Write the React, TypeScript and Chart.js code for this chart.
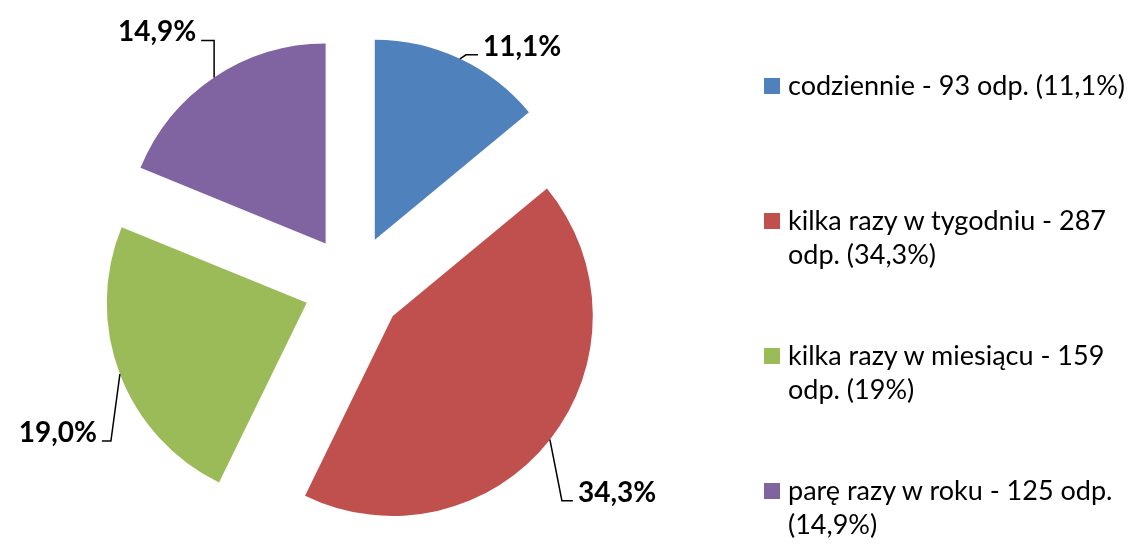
import React, { useEffect, useRef } from "react";
import { Chart, registerables } from "chart.js";

Chart.register(...registerables);

// ---- data ----
const categories = [
  "codziennie",
  "kilka razy w tygodniu",
  "kilka razy w miesiącu",
  "parę razy w roku",
];
const responses = [93, 287, 159, 125];
const percentLabels = ["11,1%", "34,3%", "19,0%", "14,9%"];
const legendLabels = [
  "codziennie - 93 odp. (11,1%)",
  "kilka razy w tygodniu - 287 odp. (34,3%)",
  "kilka razy w miesiącu - 159 odp. (19%)",
  "parę razy w roku - 125 odp. (14,9%)",
];
const sliceColors = ["#4F81BD", "#C0504D", "#9BBB59", "#8064A2"];

// ---- layout / style ----
const EXPLODE = 50;
const RADIUS = 200;
const LABEL_FONT = "bold 28px Lato";
const LEGEND_FONT_FAMILY = "Lato";
const LEGEND_FONT_SIZE = 27;
// elbow offset from the slice edge point, horizontal arm length and side
const leaderLayout = [
  { ex: 6, ey: -4, arm: 12, side: 1 },
  { ex: 12, ey: 61, arm: 11, side: 1 },
  { ex: -9, ey: 67, arm: 9, side: -1 },
  { ex: 0, ey: -37, arm: 13, side: -1 },
];

const explodePlugin = {
  id: "explodeSlices",
  afterDatasetUpdate(chart: any, args: any) {
    const meta = chart.getDatasetMeta(args.index);
    meta.data.forEach((arc: any) => {
      const mid = (arc.startAngle + arc.endAngle) / 2;
      arc.x += Math.cos(mid) * EXPLODE;
      arc.y += Math.sin(mid) * EXPLODE;
    });
  },
};

const labelPlugin = {
  id: "leaderLabels",
  afterDatasetsDraw(chart: any) {
    const ctx = chart.ctx as CanvasRenderingContext2D;
    const meta = chart.getDatasetMeta(0);
    ctx.save();
    meta.data.forEach((arc: any, i: number) => {
      const mid = (arc.startAngle + arc.endAngle) / 2;
      const r = arc.outerRadius;
      const px = arc.x + Math.cos(mid) * r;
      const py = arc.y + Math.sin(mid) * r;
      const L = leaderLayout[i];
      const ex = px + L.ex;
      const ey = py + L.ey;
      const hx = ex + L.side * L.arm;
      ctx.beginPath();
      ctx.moveTo(px, py);
      ctx.lineTo(ex, ey);
      ctx.lineTo(hx, ey);
      ctx.strokeStyle = "#000";
      ctx.lineWidth = 1.5;
      ctx.stroke();
      ctx.font = LABEL_FONT;
      ctx.fillStyle = "#000";
      ctx.textBaseline = "alphabetic";
      ctx.textAlign = L.side > 0 ? "left" : "right";
      ctx.fillText(percentLabels[i], hx + L.side * 5, ey + 1);
    });
    ctx.restore();
  },
};

export default function App() {
  const canvasRef = useRef<HTMLCanvasElement | null>(null);

  useEffect(() => {
    let chart: Chart | null = null;
    let cancelled = false;
    const build = () => {
      if (cancelled || !canvasRef.current) return;
      chart = new Chart(canvasRef.current, {
        type: "pie",
        data: {
          labels: categories,
          datasets: [
            {
              data: responses,
              backgroundColor: sliceColors,
              borderWidth: 0,
              radius: RADIUS,
            } as any,
          ],
        },
        options: {
          responsive: false,
          animation: false,
          events: [],
          layout: { padding: { left: 0, right: 422, top: 19, bottom: 0 } },
          plugins: {
            legend: { display: false },
            tooltip: { enabled: false },
          },
        },
        plugins: [explodePlugin, labelPlugin],
      });
    };
    const fonts = (document as any).fonts;
    if (fonts && fonts.load) {
      Promise.all([fonts.load(LABEL_FONT)])
        .catch(() => {})
        .then(build);
    } else {
      build();
    }
    return () => {
      cancelled = true;
      if (chart) chart.destroy();
    };
  }, []);

  return (
    <div
      style={{
        position: "absolute",
        left: 0,
        top: 0,
        width: 1129,
        height: 551,
        background: "#fff",
        overflow: "hidden",
      }}
    >
      <canvas ref={canvasRef} width={1129} height={551} style={{ display: "block" }} />
      {legendLabels.map((txt, i) => (
        <div
          key={i}
          style={{
            position: "absolute",
            left: 764,
            top: 68 + i * 135,
            width: 365,
            fontFamily: LEGEND_FONT_FAMILY,
            fontSize: LEGEND_FONT_SIZE,
            lineHeight: "34px",
            color: "#000",
          }}
        >
          <span
            style={{
              position: "absolute",
              left: 0,
              top: 10,
              width: 16,
              height: 16,
              background: sliceColors[i],
            }}
          />
          <div style={{ marginLeft: 24 }}>{txt}</div>
        </div>
      ))}
    </div>
  );
}
